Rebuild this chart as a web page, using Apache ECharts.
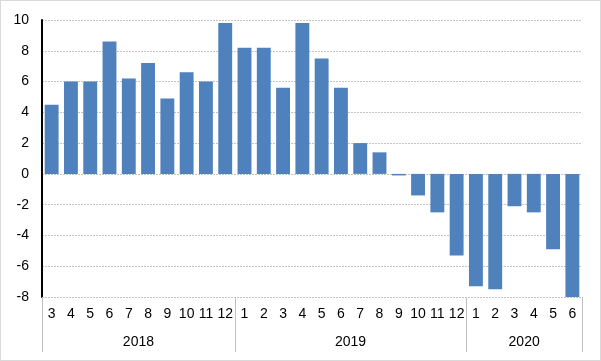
<!DOCTYPE html>
<html>
<head>
<meta charset="utf-8">
<script src="https://cdn.jsdelivr.net/npm/echarts@6/dist/echarts.min.js"></script>
<style>
html,body{margin:0;padding:0;background:#fff;}
#c{width:601px;height:361px;box-sizing:border-box;border:1px solid #d9d9d9;}
</style>
</head>
<body>
<div id="c"></div>
<script>
const years = ['2018', '2019', '2020'];
const monthsByYear = [
  ['3','4','5','6','7','8','9','10','11','12'],
  ['1','2','3','4','5','6','7','8','9','10','11','12'],
  ['1','2','3','4','5','6']
];
const values = [
  4.5, 6.0, 6.0, 8.6, 6.2, 7.2, 4.9, 6.6, 6.0, 9.8,
  8.2, 8.2, 5.6, 9.8, 7.5, 5.6, 2.0, 1.4, -0.1, -1.4, -2.5, -5.3,
  -7.3, -7.5, -2.1, -2.5, -4.9, -8.0
];
const yTicks = [-8, -6, -4, -2, 0, 2, 4, 6, 8, 10];

const categories = [];
const boundaries = [0];
const centers = [];
let acc = 0;
monthsByYear.forEach(function (ms) {
  ms.forEach(function (m) { categories.push(m); });
  centers.push(acc + ms.length / 2);
  acc += ms.length;
  boundaries.push(acc);
});

const chart = echarts.init(document.getElementById('c'), null, {renderer: 'canvas'});
const font = 'Liberation Sans, Arial, sans-serif';
chart.setOption({
  animation: false,
  backgroundColor: 'transparent',
  grid: {left: 41, right: 18, top: 19, bottom: 63, containLabel: false},
  xAxis: [
    {
      type: 'category',
      data: categories,
      position: 'bottom',
      axisLine: {show: false, onZero: false},
      axisTick: {show: false},
      splitLine: {show: false},
      axisLabel: {interval: 0, margin: 10, fontSize: 14, color: '#000', fontFamily: font}
    },
    {
      type: 'value',
      min: 0,
      max: acc,
      position: 'bottom',
      axisLine: {show: false, onZero: false},
      splitLine: {show: false},
      axisTick: {show: true, length: 55, customValues: boundaries, lineStyle: {color: '#bfbfbf', width: 1}},
      axisLabel: {
        margin: 38, fontSize: 14, color: '#000', fontFamily: font,
        customValues: centers,
        formatter: function (v) {
          const i = centers.indexOf(v);
          return i >= 0 ? years[i] : '';
        }
      }
    }
  ],
  yAxis: {
    type: 'value',
    min: yTicks[0],
    max: yTicks[yTicks.length - 1],
    interval: 2,
    axisLine: {show: true, lineStyle: {color: '#000', width: 2}},
    axisTick: {show: false},
    axisLabel: {margin: 13, fontSize: 14, color: '#000', fontFamily: font},
    splitLine: {show: true, lineStyle: {color: '#c4c4c4', type: [2, 1], width: 1}}
  },
  series: [{
    type: 'bar',
    xAxisIndex: 0,
    data: values,
    barCategoryGap: '28%',
    itemStyle: {color: '#4f81bd'}
  }]
});
</script>
</body>
</html>
